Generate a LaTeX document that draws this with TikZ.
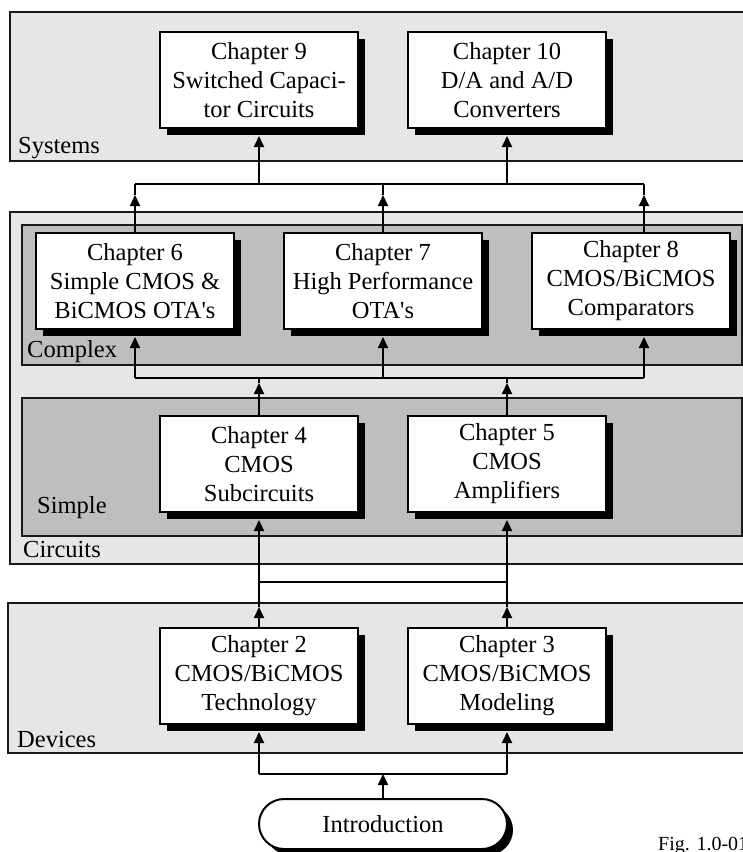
\documentclass[tikz,border=0pt]{standalone}
\usepackage{fontspec}
\setmainfont{Liberation Serif}
\usetikzlibrary{arrows.meta,shadows}
\definecolor{panelA}{RGB}{230,230,230}
\definecolor{panelB}{RGB}{190,190,190}
\begin{document}
\begin{tikzpicture}[x=1pt,y=-1pt,
  font=\fontsize{24.5}{29}\selectfont,
  panel/.style={draw=black!90, line width=1.5pt},
  chap/.style={draw, line width=2pt, fill=white, minimum width=198pt,
    minimum height=96pt, inner sep=0pt, align=center,
    drop shadow={shadow xshift=6.5pt, shadow yshift=-6.5pt, fill=black, opacity=1}},
  introbox/.style={draw, line width=2pt, fill=white, minimum width=248pt,
    minimum height=50pt, inner sep=0pt, rounded corners=25pt,
    drop shadow={shadow xshift=6pt, shadow yshift=-6pt, fill=black, opacity=1}},
  conn/.style={line width=2pt},
  arr/.style={line width=2pt, -{Triangle[length=11pt,width=10pt]}},
  lbl/.style={anchor=base west, inner sep=0pt}]
\useasboundingbox (0,0) rectangle (743,852);
\clip (0,0) rectangle (743,852);
\fill[white] (0,0) rectangle (743,852);

% panels
\draw[panel, fill=panelA] (10,12) rectangle (770,161);
\draw[panel, fill=panelA] (10,212) rectangle (770,564);
\draw[panel, fill=panelB] (22,225) rectangle (742,365);
\draw[panel, fill=panelB] (22,398) rectangle (742,536);
\draw[panel, fill=panelA] (8,603) rectangle (770,753);

% panel labels
\node[lbl] (lsys) at (18,153) {Systems};
\node[lbl] (lcpx) at (27,357) {Complex};
\node[lbl] (lsim) at (37,513) {Simple};
\node[lbl] (lcir) at (23,557) {Circuits};
\node[lbl] (ldev) at (17,747) {Devices};

% chapter boxes
\node[chap] (ch9)  at (259,80)  {Chapter 9\\Switched Capaci-\\tor Circuits};
\node[chap] (ch10) at (507,80)  {Chapter 10\\D/A and A/D\\Converters};
\node[chap] (ch6)  at (135,281) {Chapter 6\\Simple CMOS \&\\BiCMOS OTA\textquotesingle s};
\node[chap] (ch7)  at (383,281) {Chapter 7\\High Performance\\OTA\textquotesingle s};
\node[chap] (ch8)  at (631,281) {Chapter 8\\CMOS/BiCMOS\\Comparators};
\node[chap] (ch4)  at (259,464) {Chapter 4\\CMOS\\Subcircuits};
\node[chap] (ch5)  at (507,464) {Chapter 5\\CMOS\\Amplifiers};
\node[chap] (ch2)  at (259,676) {Chapter 2\\CMOS/BiCMOS\\Technology};
\node[chap] (ch3)  at (507,676) {Chapter 3\\CMOS/BiCMOS\\Modeling};
\node[introbox] (intro) at (383,824) {Introduction};

\node[lbl, font=\fontsize{20}{24}\selectfont] (fig) at (658,850) {Fig. 1.0-01};

% top bus
\coordinate (tb6) at (135,184);
\coordinate (tb9) at (259,184);
\coordinate (tb7) at (383,184);
\coordinate (tb10) at (507,184);
\coordinate (tb8) at (644,184);
\coordinate (a6) at (135,195);
\coordinate (a7) at (383,195);
\coordinate (a8) at (644,195);
\draw[conn] (tb6) -- (tb8);
\draw[arr] (tb9) -- ([yshift=-7pt]ch9.south);
\draw[arr] (tb10) -- ([yshift=-7pt]ch10.south);
\draw[arr] (ch6.north) -- (a6);
\draw[conn] (a6) -- (tb6);
\draw[arr] (ch7.north) -- (a7);
\draw[conn] (a7) -- (tb7);
\draw[arr] (tb8 |- ch8.north) -- (a8);
\draw[conn] (a8) -- (tb8);

% lower bus (circuits)
\coordinate (lb6) at (135,378);
\coordinate (lb4) at (259,378);
\coordinate (lb7) at (383,378);
\coordinate (lb5) at (507,378);
\coordinate (lb8) at (644,378);
\coordinate (a4) at (259,383);
\coordinate (a5) at (507,383);
\coordinate (s8) at ([yshift=-7pt]ch8.south);
\draw[conn] (lb6) -- (lb8);
\draw[arr] (lb6) -- ([yshift=-7pt]ch6.south);
\draw[arr] (lb7) -- ([yshift=-7pt]ch7.south);
\draw[arr] (lb8) -- (lb8 |- s8);
\draw[arr] (ch4.north) -- (a4);
\draw[conn] (a4) -- (lb4);
\draw[arr] (ch5.north) -- (a5);
\draw[conn] (a5) -- (lb5);

% middle bus (devices -> circuits)
\coordinate (mb4) at (259,582);
\coordinate (mb5) at (507,582);
\coordinate (a2) at (259,607);
\coordinate (a3) at (507,607);
\draw[conn] (mb4) -- (mb5);
\draw[arr] (ch2.north) -- (a2);
\draw[arr] (a2) -- ([yshift=-7pt]ch4.south);
\draw[arr] (ch3.north) -- (a3);
\draw[arr] (a3) -- ([yshift=-7pt]ch5.south);

% bottom bus
\coordinate (bb2) at (259,774);
\coordinate (bbi) at (383,774);
\coordinate (bb3) at (507,774);
\draw[conn] (bb2) -- (bb3);
\draw[arr] (bb2) -- ([yshift=-7pt]ch2.south);
\draw[arr] (bb3) -- ([yshift=-7pt]ch3.south);
\draw[arr] (intro.north) -- (bbi);
\end{tikzpicture}
\end{document}
